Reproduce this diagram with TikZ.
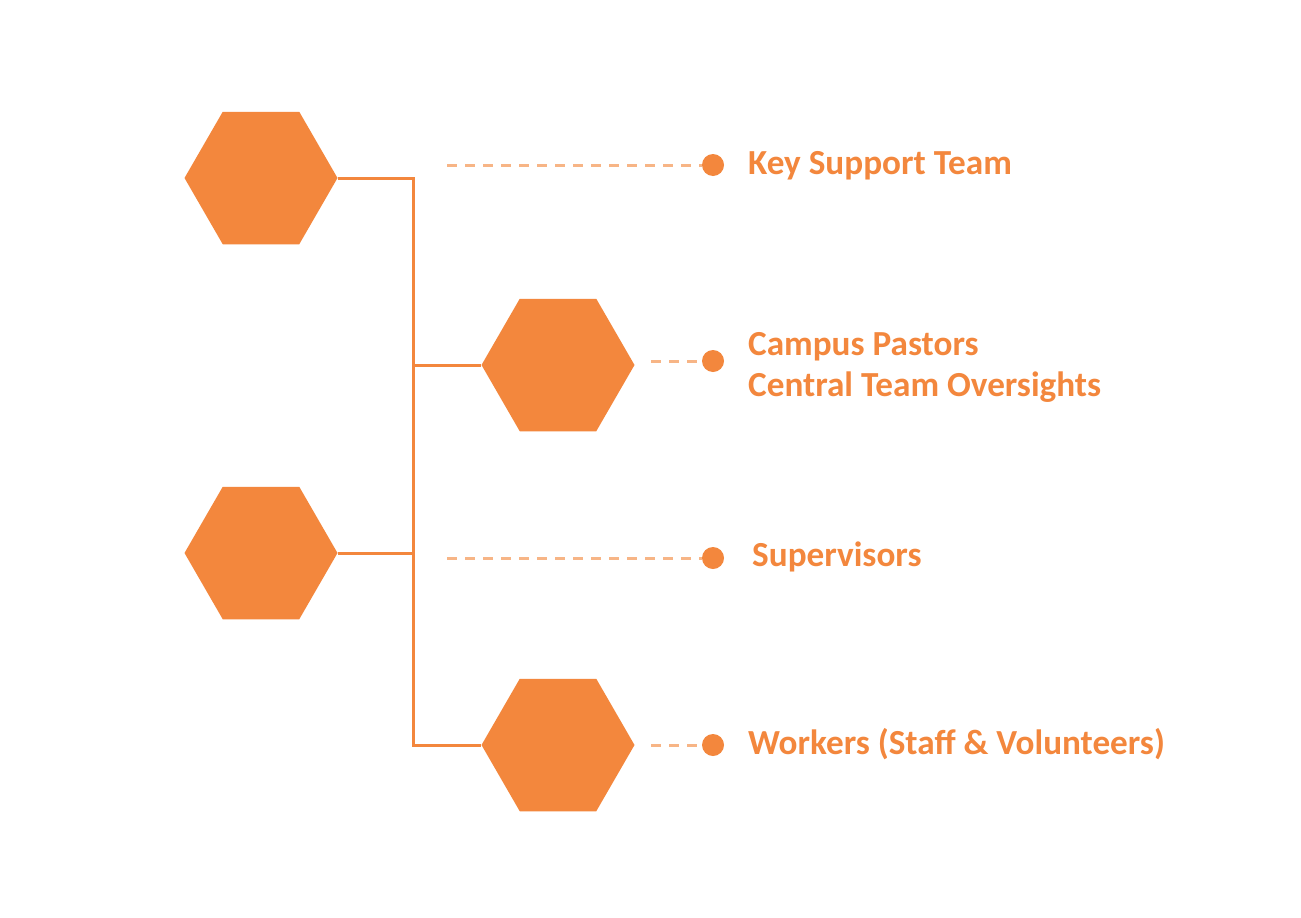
\documentclass[tikz,border=0pt]{standalone}
\usepackage{fontspec}
\setmainfont{Carlito}
\usetikzlibrary{shapes.geometric}
\definecolor{accent}{HTML}{F3873D}
\definecolor{accentlight}{HTML}{F7B586}
\begin{document}
\begin{tikzpicture}[x=1pt,y=-1pt,
  hexa/.style={regular polygon, regular polygon sides=6, minimum size=153pt,
    inner sep=0pt, fill=accent, draw=none},
  link/.style={draw=accent, line width=3pt},
  leader/.style={draw=accentlight, line width=3pt, dash pattern=on 10pt off 8pt},
  bullet/.style={circle, fill=accent, minimum size=22pt, inner sep=0pt},
  label/.style={anchor=base west, inner sep=0pt, text=accent,
    font=\fontsize{35.2}{41}\selectfont\bfseries}]
  \fill[white] (0,0) rectangle (1301,918);
  \useasboundingbox (0,0) rectangle (1301,918);

  % hexagons
  \node[hexa] (h1) at (261,178) {};
  \node[hexa] (h2) at (558,365) {};
  \node[hexa] (h3) at (261,553) {};
  \node[hexa] (h4) at (558,745) {};

  % trunk and branches
  \coordinate (ttop) at (413,178);
  \coordinate (tbot) at (413,745);
  \draw[link, line join=miter] (h1.east) -- (ttop) -- (tbot) -- (h4.west);
  \draw[link] (h2.west) -- (h2.west -| ttop);
  \draw[link] (h3.east) -- (h3.east -| ttop);

  % bullets
  \node[bullet] (d1) at (713,165) {};
  \node[bullet] (d2) at (713,361) {};
  \node[bullet] (d3) at (713,558) {};
  \node[bullet] (d4) at (713,745) {};

  % dashed leaders
  \coordinate (s1) at (447,165);
  \coordinate (s2) at (651,361);
  \coordinate (s3) at (447,558);
  \coordinate (s4) at (651,745);
  \draw[leader] (s1) -- (d1.west);
  \draw[leader] (s2) -- (d2.west);
  \draw[leader] (s3) -- (d3.west);
  \draw[leader] (s4) -- (d4.west);

  % labels
  \node[label] (t1) at (748,174) {Key Support Team};
  \node[label] (t2a) at (748,355) {Campus Pastors};
  \node[label] (t2b) at (748,396) {Central Team Oversights};
  \node[label] (t3) at (752,566) {Supervisors};
  \node[label] (t4) at (748,754) {Workers (Staff \& Volunteers)};
\end{tikzpicture}
\end{document}
